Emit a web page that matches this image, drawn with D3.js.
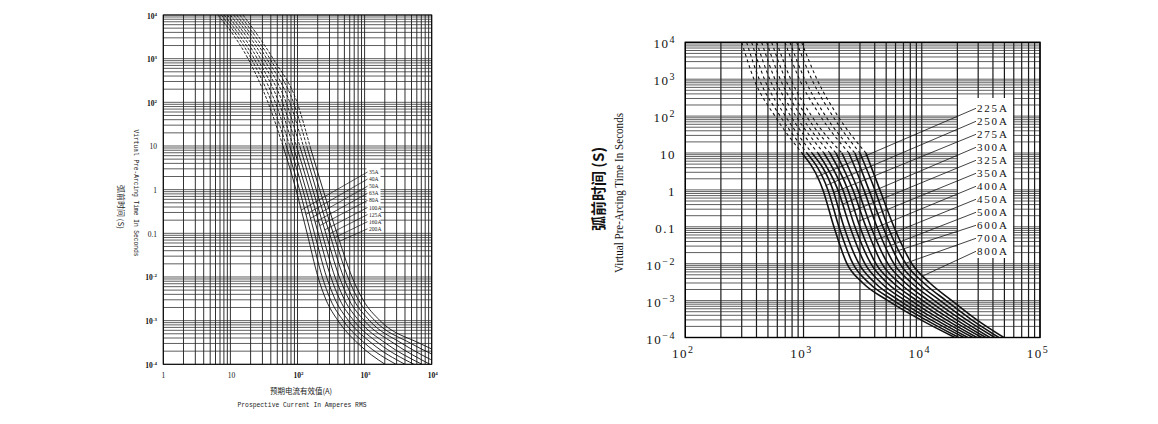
<!DOCTYPE html>
<html>
<head>
<meta charset="utf-8">
<script src="https://cdn.jsdelivr.net/npm/d3@7"></script>
<style>
body{margin:0;background:#fff;}
</style>
</head>
<body>
<svg id="chart" width="1158" height="424"></svg>
<script>
/*
 * Two fuse time-current charts.
 * Currents (A) are listed per rating, one value for each time level.
 */

// Left chart
const leftTimes = [1e4, 1e3, 100, 10, 1, 0.1, 0.01, 3e-3, 1e-3, 3e-4, 1e-4];
const leftRatings = ["35A", "40A", "50A", "63A", "80A", "100A", "125A", "160A", "200A"];
const leftCurrents = [
    [6.5, 18.3, 36.3, 60.8, 95, 139, 202, 266, 401, 797, 2014],
    [7.3, 20.4, 41.1, 68.2, 107, 158, 234, 311, 481, 1014, 2938],
    [8.1, 22.6, 46.6, 76.6, 120, 179, 271, 366, 576, 1290, 4000],
    [9.0, 25.2, 52.7, 85.9, 134, 204, 314, 428, 690, 1639, 5447],
    [10.0, 28.1, 59.7, 96.4, 151, 232, 362, 502, 825, 2084, 7167],
    [11.2, 31.3, 67.6, 108, 169, 264, 420, 587, 990, 2743, 9434],
    [12.4, 34.8, 76.7, 122, 190, 300, 485, 690, 1183, 3609, 13300],
    [13.8, 38.7, 86.9, 137, 214, 341, 562, 808, 1419, 4914, 22250],
    [15.4, 43.2, 98.4, 153, 240, 388, 649, 947, 1696, 6692, 37230]
];
const leftLeaderTimes = [0.34, 0.27, 0.22, 0.18, 0.15, 0.12, 0.098, 0.08, 0.066];
const leftYTicks = [1e4, 1e3, 100, 10, 1, 0.1, 0.01, 1e-3, 1e-4];
const leftYTickLabels = ["10^4", "10^3", "10^2", "10", "1", "0.1", "10^-2", "10^-3", "10^-4"];
const leftXTicks = [1, 10, 100, 1000, 10000];
const leftXTickLabels = ["1", "10", "10^2", "10^3", "10^4"];

// Right chart
const rightTimes = [1e4, 1e3, 100, 10, 1, 0.1, 0.01, 3e-3, 1e-3, 3e-4, 1e-4];
const rightRatings = ["225A", "250A", "275A", "300A", "325A", "350A", "400A", "450A", "500A", "600A", "700A", "800A"];
const rightCurrents = [
    [300, 381, 573, 969, 1459, 1807, 2328, 3177, 5170, 9826, 19050],
    [330, 422, 635, 1068, 1608, 1992, 2616, 3579, 5788, 10850, 20590],
    [364, 467, 703, 1178, 1773, 2195, 2940, 4029, 6479, 11980, 22690],
    [401, 518, 779, 1323, 1954, 2467, 3304, 4538, 7269, 13240, 24530],
    [442, 573, 863, 1488, 2153, 2720, 3713, 5110, 8135, 14620, 27040],
    [488, 635, 956, 1672, 2373, 2999, 4093, 5754, 9108, 16140, 29230],
    [537, 703, 1058, 1879, 2616, 3370, 4600, 6467, 10200, 17790, 32210],
    [592, 779, 1173, 2112, 2883, 3713, 5170, 7283, 11420, 19650, 34820],
    [696, 923, 1390, 2420, 3240, 4174, 5811, 8199, 12780, 21700, 37640],
    [767, 1022, 1538, 2720, 3572, 4692, 6530, 9233, 14330, 23960, 41480],
    [874, 1173, 1766, 2999, 4013, 5170, 7339, 10400, 16050, 26460, 44840],
    [964, 1298, 1954, 3370, 4424, 5811, 8248, 11710, 17970, 29230, 49430]
];
const rightLeaderTimes = [2.2, 1.3, 0.85, 0.41, 0.25, 0.14, 0.077, 0.045, 0.028, 0.021, 0.0103, 0.0047];
const rightYTicks = [1e4, 1e3, 100, 10, 1, 0.1, 0.01, 1e-3, 1e-4];
const rightYTickLabels = ["10^4", "10^3", "10^2", "10", "1", "0.1", "10^\u22122", "10^\u22123", "10^\u22124"];
const rightXTicks = [100, 1000, 10000, 100000];
const rightXTickLabels = ["10^2", "10^3", "10^4", "10^5"];

// dashed above this time, solid below
const dashLimit = 10;

let svg = d3.select("#chart");

/*
 * Finds the current on one curve at a given time (log-log, straight between points).
 */
function pointOnCurve(currents, times, t){
    for(let j = 0; j < times.length - 1; j++){
        if(t <= times[j] && t >= times[j + 1]){
            let f = (Math.log10(times[j]) - Math.log10(t)) / (Math.log10(times[j]) - Math.log10(times[j + 1]));
            let li = Math.log10(currents[j]) + f * (Math.log10(currents[j + 1]) - Math.log10(currents[j]));
            return [Math.pow(10, li), t];
        }
    }
    return [currents[0], times[0]];
}

// writes "10^4" as base plus raised exponent
function tickText(g, str, x, y, anchor, size, supSize, supRise, weight, family){
    let parts = str.split("^");
    let text = g.append("text")
        .attr("x", x).attr("y", y)
        .attr("text-anchor", anchor)
        .attr("font-family", family)
        .attr("font-size", size)
        .attr("font-weight", weight)
        .attr("fill", "#111");
    text.append("tspan").text(parts[0]);
    if(parts.length > 1){
        text.append("tspan").attr("dy", -supRise).attr("font-size", supSize).text(parts[1]);
    }
    return text;
}

function drawGrid(g, x, y, vWidth, hWidth, frameWidth){
    let xr = x.range(), yr = y.range();
    g.selectAll(".vgrid")
        .data(x.ticks())
        .enter()
        .append("line")
        .attr("x1", d => x(d)).attr("x2", d => x(d))
        .attr("y1", yr[1]).attr("y2", yr[0])
        .attr("stroke", "#1a1a1a")
        .attr("stroke-width", vWidth);
    g.selectAll(".hgrid")
        .data(y.ticks())
        .enter()
        .append("line")
        .attr("x1", xr[0]).attr("x2", xr[1])
        .attr("y1", d => y(d)).attr("y2", d => y(d))
        .attr("stroke", "#2a2a2a")
        .attr("stroke-width", hWidth);
    g.append("rect")
        .attr("x", xr[0]).attr("y", yr[1])
        .attr("width", xr[1] - xr[0]).attr("height", yr[0] - yr[1])
        .attr("fill", "none")
        .attr("stroke", "#000")
        .attr("stroke-width", frameWidth);
}

function drawCurves(g, x, y, times, currents, clipId, solidWidth, dashWidth, dash){
    let line = d3.line()
        .x(d => x(d[0]))
        .y(d => y(d[1]))
        .curve(d3.curveMonotoneX);
    let cg = g.append("g").attr("clip-path", "url(#" + clipId + ")");
    currents.forEach(function(row){
        let pts = row.map((c, j) => [c, times[j]]);
        let upper = pts.filter(p => p[1] >= dashLimit);
        let lower = pts.filter(p => p[1] <= dashLimit);
        cg.append("path")
            .attr("d", line(upper))
            .attr("fill", "none")
            .attr("stroke", "#111")
            .attr("stroke-width", dashWidth)
            .attr("stroke-dasharray", dash);
        cg.append("path")
            .attr("d", line(lower))
            .attr("fill", "none")
            .attr("stroke", "#111")
            .attr("stroke-width", solidWidth);
    });
}

function addClip(id, x, y){
    let xr = x.range(), yr = y.range();
    svg.append("clipPath").attr("id", id)
        .append("rect")
        .attr("x", xr[0]).attr("y", yr[1])
        .attr("width", xr[1] - xr[0]).attr("height", yr[0] - yr[1]);
}

/*
 * Left chart
 */
function drawLeft(){
    let x = d3.scaleLog().domain([1, 1e4]).range([163.3, 431.7]);
    let y = d3.scaleLog().domain([1e-4, 1e4]).range([364.3, 15]);
    let g = svg.append("g");
    addClip("clipLeft", x, y);

    drawGrid(g, x, y, 0.9, 0.75, 1);
    drawCurves(g, x, y, leftTimes, leftCurrents, "clipLeft", 0.9, 0.9, "3,1.5");

    // label box and leaders
    let labelX = 369, labelTop = 172, labelStep = 7.1;
    g.append("rect").attr("x", 366.5).attr("y", 167).attr("width", 14).attr("height", 66).attr("fill", "#fff");
    leftRatings.forEach(function(name, i){
        let p = pointOnCurve(leftCurrents[i], leftTimes, leftLeaderTimes[i]);
        let ly = labelTop + i * labelStep;
        g.append("line")
            .attr("x1", x(p[0])).attr("y1", y(p[1]))
            .attr("x2", labelX - 1.5).attr("y2", ly)
            .attr("stroke", "#111").attr("stroke-width", 0.7);
        g.append("text")
            .attr("x", labelX).attr("y", ly + 2)
            .attr("font-family", "Liberation Serif")
            .attr("font-size", 5.6)
            .attr("fill", "#222")
            .text(name);
    });

    // tick labels
    leftYTicks.forEach(function(v, i){
        let lab = leftYTickLabels[i];
        tickText(g, lab, 157, y(v) + 3.5, "end", 7.5, 5, 3,
            lab.indexOf("^") >= 0 ? "bold" : "normal", "Liberation Serif");
    });
    leftXTicks.forEach(function(v, i){
        let lab = leftXTickLabels[i];
        tickText(g, lab, x(v) + (i === 0 ? 0 : 1), 378, "middle", 7.5, 5, 3,
            lab.indexOf("^") >= 0 ? "bold" : "normal", "Liberation Serif");
    });

    // axis titles
    g.append("text")
        .attr("x", 301).attr("y", 394)
        .attr("text-anchor", "middle")
        .attr("font-family", "Noto Sans CJK SC")
        .attr("font-size", 7.5)
        .attr("fill", "#222")
        .text("预期电流有效值(A)");
    g.append("text")
        .attr("x", 302).attr("y", 407)
        .attr("text-anchor", "middle")
        .attr("font-family", "Liberation Mono")
        .attr("font-size", 8)
        .attr("textLength", 129)
        .attr("lengthAdjust", "spacingAndGlyphs")
        .attr("fill", "#222")
        .text("Prospective Current In Amperes RMS");
    g.append("text")
        .attr("transform", "translate(134,193) rotate(90)")
        .attr("text-anchor", "middle")
        .attr("font-family", "Liberation Mono")
        .attr("font-size", 8)
        .attr("textLength", 127)
        .attr("lengthAdjust", "spacingAndGlyphs")
        .attr("fill", "#222")
        .text("Virtual Pre-Arcing Time In Seconds");
    g.append("text")
        .attr("transform", "translate(117.5,207) rotate(90)")
        .attr("text-anchor", "middle")
        .attr("font-family", "Noto Sans CJK SC")
        .attr("font-size", 8)
        .attr("fill", "#222")
        .text("弧前时间 (S)");
}

/*
 * Right chart
 */
function drawRight(){
    let x = d3.scaleLog().domain([100, 1e5]).range([685.3, 1040]);
    let y = d3.scaleLog().domain([1e-4, 1e4]).range([337.5, 42.3]);
    let g = svg.append("g");
    addClip("clipRight", x, y);

    drawGrid(g, x, y, 1.2, 0.75, 1.4);
    drawCurves(g, x, y, rightTimes, rightCurrents, "clipRight", 1.6, 1.1, "3,3");

    let labelX = 977, labelTop = 108.3, labelStep = 13;
    g.append("rect").attr("x", 958).attr("y", 98).attr("width", 55).attr("height", 160).attr("fill", "#fff");
    rightRatings.forEach(function(name, i){
        let p = pointOnCurve(rightCurrents[i], rightTimes, rightLeaderTimes[i]);
        let ly = labelTop + i * labelStep;
        g.append("line")
            .attr("x1", x(p[0])).attr("y1", y(p[1]))
            .attr("x2", labelX - 1).attr("y2", ly)
            .attr("stroke", "#111").attr("stroke-width", 0.8);
        g.append("text")
            .attr("x", labelX).attr("y", ly + 4)
            .attr("font-family", "Liberation Serif")
            .attr("font-size", 11)
            .attr("letter-spacing", 1.8)
            .attr("fill", "#111")
            .text(name);
    });

    rightYTicks.forEach(function(v, i){
        let t = tickText(g, rightYTickLabels[i], 676, y(v) + 6, "end", 13, 10, 5, "normal", "Liberation Serif");
        t.attr("letter-spacing", 1.5);
    });
    rightXTicks.forEach(function(v, i){
        let t = tickText(g, rightXTickLabels[i], x(v) - 2, 358, "middle", 13, 10, 5, "normal", "Liberation Serif");
        t.attr("letter-spacing", 1.5);
    });

    g.append("text")
        .attr("transform", "translate(604,189) rotate(-90)")
        .attr("text-anchor", "middle")
        .attr("font-family", "Noto Sans CJK SC")
        .attr("font-size", 15)
        .attr("font-weight", "bold")
        .attr("fill", "#111")
        .text("弧前时间 (S)");
    g.append("text")
        .attr("transform", "translate(623,193) rotate(-90)")
        .attr("text-anchor", "middle")
        .attr("font-family", "Liberation Serif")
        .attr("font-size", 12)
        .attr("textLength", 160)
        .attr("lengthAdjust", "spacingAndGlyphs")
        .attr("fill", "#111")
        .text("Virtual Pre-Arcing Time In Seconds");
}

drawLeft();
drawRight();
</script>
</body>
</html>
